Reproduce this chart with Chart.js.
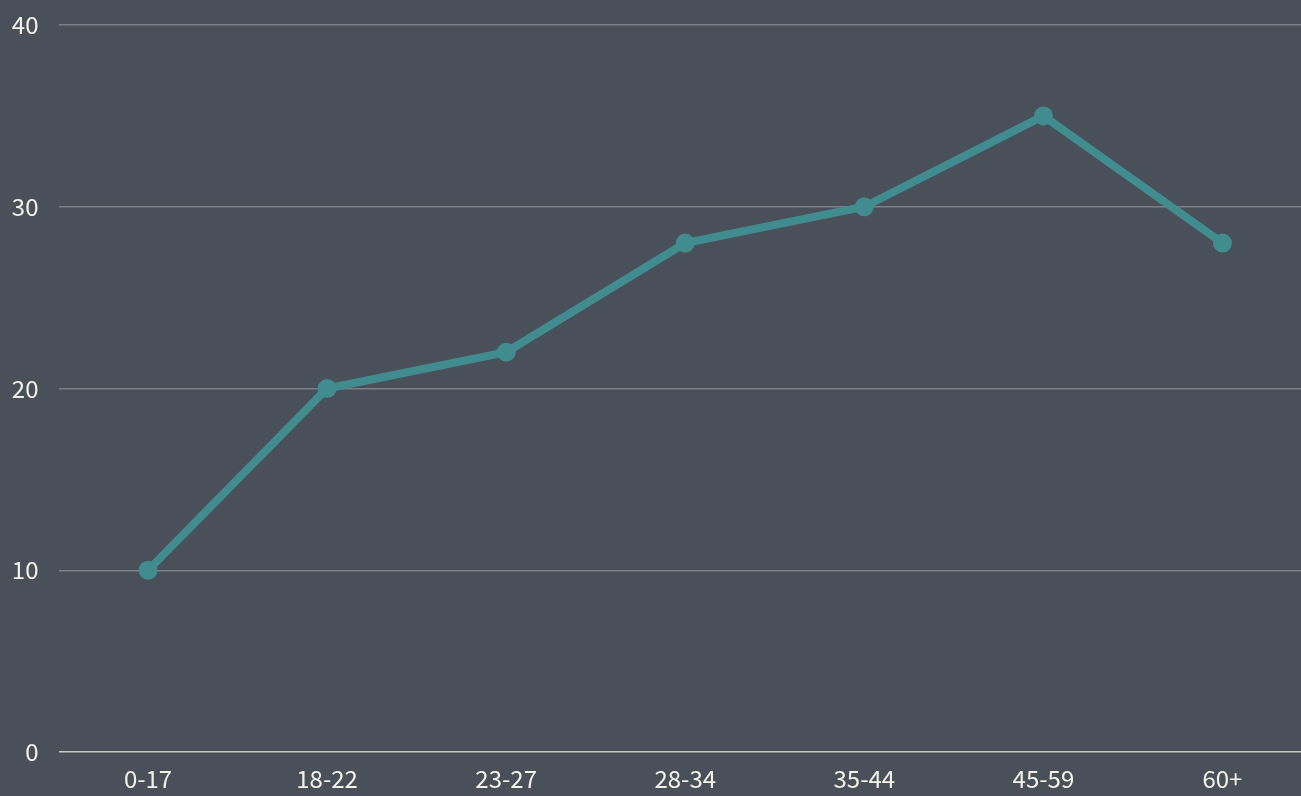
<!DOCTYPE html>
<html>
<head>
<meta charset="utf-8">
<script src="https://cdn.jsdelivr.net/npm/chart.js@4"></script>
<style>
  html, body { margin: 0; padding: 0; background: #4a5059; overflow: hidden; }
  #wrap { width: 1312px; height: 796px; }
</style>
</head>
<body>
<div id="wrap"><canvas id="ageChart" width="1312" height="796"></canvas></div>
<script>
// Age groups and values
const ageGroups = ['0-17', '18-22', '23-27', '28-34', '35-44', '45-59', '60+'];
const values = [10, 20, 22, 28, 30, 35, 28];
const yTicks = [0, 10, 20, 30, 40];

const textColor = '#f3f3e8';
const lineColor = '#408c8f';
const tickFont = { family: '"Noto Sans CJK SC", "Noto Sans", sans-serif', size: 24 };

const ctx = document.getElementById('ageChart').getContext('2d');

window.myChart = new Chart(ctx, {
  type: 'line',
  data: {
    labels: ageGroups,
    datasets: [{
      data: values,
      borderColor: lineColor,
      backgroundColor: lineColor,
      borderWidth: 8,
      pointRadius: 9.5,
      pointHoverRadius: 9.5,
      pointBackgroundColor: lineColor,
      pointBorderWidth: 0,
      tension: 0,
      fill: false
    }]
  },
  options: {
    responsive: false,
    animation: false,
    layout: {
      autoPadding: false,
      padding: { left: 0, top: 25, right: 0, bottom: 0 }
    },
    plugins: {
      legend: { display: false },
      tooltip: { enabled: false }
    },
    scales: {
      x: {
        offset: true,
        grid: { display: false, drawTicks: false },
        border: { display: false },
        afterFit: (axis) => {
          axis.height = 44;
          axis.paddingLeft = 0;
          axis.paddingRight = 0;
        },
        ticks: {
          color: textColor,
          padding: 12,
          maxRotation: 0,
          font: tickFont
        }
      },
      y: {
        min: 0,
        max: 40,
        afterBuildTicks: (axis) => {
          axis.ticks = yTicks.map(v => ({ value: v }));
        },
        afterFit: (axis) => {
          axis.width = 58.5;
          axis.paddingTop = 0;
          axis.paddingBottom = 0;
        },
        border: { display: false },
        grid: {
          drawTicks: false,
          lineWidth: 1.5,
          color: (c) => c.tick && c.tick.value === 0 ? '#c8c8bf' : '#7b7f86'
        },
        ticks: {
          color: textColor,
          padding: 20,
          font: tickFont
        }
      }
    }
  }
});
</script>
</body>
</html>
